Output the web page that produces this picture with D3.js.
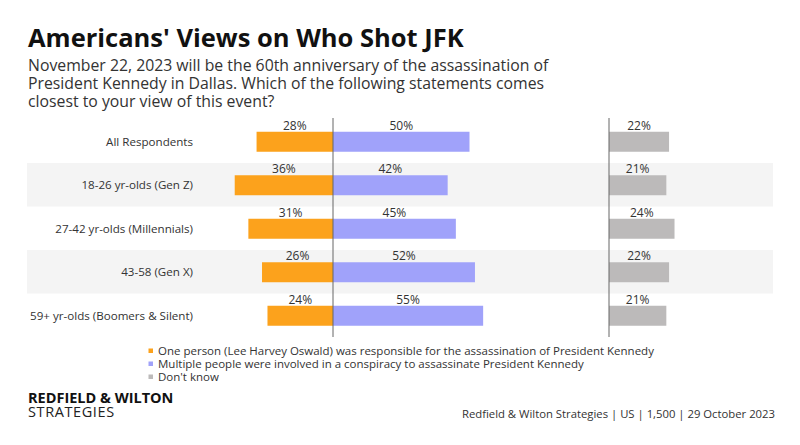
<!DOCTYPE html>
<html><head><meta charset="utf-8">
<script src="https://cdn.jsdelivr.net/npm/d3@7"></script>
<style>body{margin:0;background:#fff}svg{display:block}text{font-family:"Open Sans",Lato,sans-serif}</style>
</head><body>
<svg id="c" width="800" height="445"></svg>
<script>
const categories = ["All Respondents","18-26 yr-olds (Gen Z)","27-42 yr-olds (Millennials)","43-58 (Gen X)","59+ yr-olds (Boomers & Silent)"];
const onePerson = [28,36,31,26,24];
const multiple = [50,42,45,52,55];
const dontKnow = [22,21,24,22,21];
const seriesNames = ["One person (Lee Harvey Oswald) was responsible for the assassination of President Kennedy","Multiple people were involved in a conspiracy to assassinate President Kennedy","Don't know"];
const colors = ["#fca21c","#a0a2fa","#bcbaba"];

const svg = d3.select("#c");
svg.append("rect").attr("width",800).attr("height",445).attr("fill","#fff");

svg.append("text").attr("x",28).attr("y",46.5).attr("font-size",25.5).attr("font-weight",700).attr("fill","#111")
  .text("Americans' Views on Who Shot JFK");
const sub = ["November 22, 2023 will be the 60th anniversary of the assassination of","President Kennedy in Dallas. Which of the following statements comes","closest to your view of this event?"];
const subT = svg.append("text").attr("x",28).attr("y",70.5).attr("font-size",15.8).attr("fill","#333");
sub.forEach((s,i)=>subT.append("tspan").attr("x",28).attr("y",70.5+i*18).text(s));

const y = d3.scaleBand().domain(categories).range([119.5,337]).paddingInner(0).paddingOuter(0);
const xL = d3.scaleLinear().domain([0,100]).range([333,60]);
const xR = d3.scaleLinear().domain([0,100]).range([333,606]);
const xD = d3.scaleLinear().domain([0,100]).range([609,882]);
const barH = 20;

categories.forEach((c,i)=>{ if(i%2===1) svg.append("rect").attr("x",27).attr("width",746).attr("y",y(c)).attr("height",y.bandwidth()).attr("fill","#f4f4f4"); });

const g = svg.append("g");
function bars(vals, x0, x1, col, left){
  g.selectAll(null).data(categories).enter().append("rect")
    .attr("x",(d,i)=> left ? x1(vals[i]) : x0)
    .attr("width",(d,i)=> Math.abs(x1(vals[i])-x0))
    .attr("y",d=>y(d)+y.bandwidth()/2-barH/2+0.5).attr("height",barH).attr("fill",col);
  g.selectAll(null).data(categories).enter().append("text")
    .attr("x",(d,i)=>(x0+x1(vals[i]))/2)
    .attr("y",d=>y(d)+y.bandwidth()/2-barH/2-1.5)
    .attr("text-anchor","middle").attr("font-size",12).attr("fill","#333")
    .text((d,i)=>vals[i]+"%");
}
bars(onePerson,333,xL,colors[0],true);
bars(multiple,333,xR,colors[1],false);
bars(dontKnow,609,xD,colors[2],false);

svg.selectAll(null).data(categories).enter().append("text")
  .attr("x",193).attr("y",d=>y(d)+y.bandwidth()/2+4.5).attr("text-anchor","end")
  .attr("font-size",11.6).attr("fill","#333").text(d=>d);

[333,609].forEach(x=>svg.append("line").attr("x1",x).attr("x2",x).attr("y1",118).attr("y2",337).attr("stroke","#666").attr("stroke-width",1));

seriesNames.forEach((s,i)=>{
  svg.append("rect").attr("x",148.5).attr("y",348.5+i*13).attr("width",4.5).attr("height",4.5).attr("fill",colors[i]);
  svg.append("text").attr("x",158).attr("y",355+i*13).attr("font-size",11.5).attr("font-family","Lato").attr("fill","#333").text(s);
});

const logo = svg.append("text").attr("x",28).attr("y",403).attr("font-size",14.5).attr("fill","#111");
logo.append("tspan").attr("x",28).attr("y",403).attr("font-weight",700).text("REDFIELD & WILTON");
logo.append("tspan").attr("x",28).attr("y",417).attr("letter-spacing",0.6).attr("fill","#222").text("STRATEGIES");
svg.append("text").attr("x",775).attr("y",418).attr("text-anchor","end").attr("font-size",11.3).attr("font-family","Lato").attr("fill","#333").text("Redfield & Wilton Strategies | US | 1,500 | 29 October 2023");
</script>
</body></html>
